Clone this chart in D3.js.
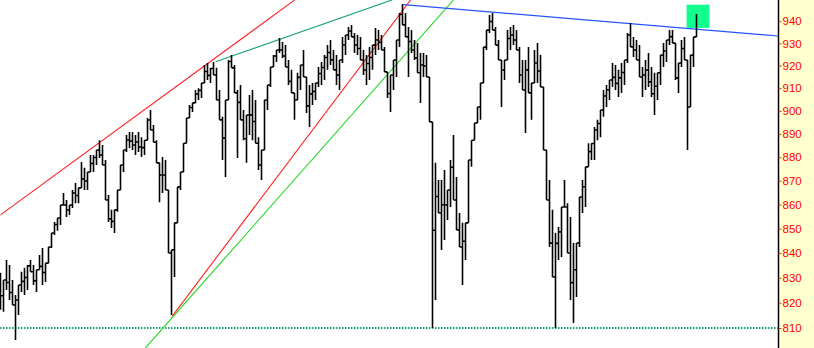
<!DOCTYPE html>
<html><head><meta charset="utf-8">
<script src="https://cdn.jsdelivr.net/npm/d3@7"></script>
<style>body{margin:0;background:#fff;overflow:hidden} svg{display:block}</style>
</head><body><svg id="c" width="814" height="348"></svg>
<script>
// Bar highs / lows (one bar per sample, left to right)
const highs = [
832.0,829.1,837.2,835.1,829.1,823.1,827.1,832.4,834.0,835.1,
837.2,835.1,833.2,839.2,842.1,835.9,842.5,848.2,852.8,854.4,
859.8,864.8,861.9,859.8,866.1,869.1,867.0,878.0,875.5,873.7,
880.9,880.9,883.1,887.3,885.2,878.8,864.0,857.8,857.8,866.1,
876.7,883.1,889.5,890.8,890.8,889.5,890.8,888.6,887.3,896.9,
900.4,893.9,887.3,876.7,880.1,878.8,864.8,841.3,852.4,867.4,
873.7,886.0,896.9,902.6,903.5,909.2,910.0,912.3,920.3,921.2,
919.0,921.6,919.0,909.2,897.4,904.8,922.5,924.7,920.3,909.2,
911.4,900.4,898.2,907.0,909.2,904.8,888.6,883.1,904.8,911.4,
919.4,924.7,927.0,932.4,930.6,929.2,922.5,918.1,904.8,916.8,
920.3,927.0,913.6,911.4,912.3,912.3,919.4,921.6,924.7,929.2,
931.5,927.0,924.7,922.5,932.9,933.8,937.4,938.3,934.7,933.8,
932.9,927.0,924.7,928.3,929.2,937.0,936.0,933.8,928.3,917.2,
915.8,922.5,931.5,943.8,947.9,943.8,937.4,936.0,931.5,930.1,
925.6,925.6,924.7,914.9,866.1,877.6,870.3,870.3,874.6,866.1,
878.8,889.5,871.6,856.5,852.4,852.4,878.8,887.3,894.7,901.7,
912.3,928.3,936.0,942.9,943.8,937.4,931.5,922.5,922.5,936.0,
937.4,938.3,936.0,928.3,922.5,922.5,928.3,912.3,927.0,930.1,
924.7,910.5,873.3,870.3,857.8,848.2,850.7,859.0,870.3,860.6,
854.8,844.1,844.1,863.2,870.3,875.9,886.0,886.0,893.0,896.1,
900.4,909.2,911.4,913.6,921.2,920.3,918.1,921.2,922.5,934.7,
939.2,932.9,931.5,929.2,919.4,922.5,925.6,919.4,916.8,916.8,
924.7,930.1,931.5,936.0,936.0,927.0,921.2,931.5,932.9,901.7,
924.7,932.9,943.3
];
const lows = [
817.2,816.4,825.1,821.1,819.1,805.3,815.1,824.3,823.1,825.1,
832.4,827.1,824.3,833.2,827.1,828.3,836.4,842.1,847.4,849.1,
851.5,859.8,854.8,855.7,858.6,860.6,860.6,868.2,866.1,866.1,
874.6,873.7,876.7,879.7,876.7,861.9,852.8,850.3,848.2,857.0,
868.2,873.7,882.2,883.9,883.1,880.9,882.2,880.1,880.9,887.3,
891.7,886.4,877.6,861.0,864.8,866.1,840.0,815.1,830.3,855.7,
866.1,875.9,887.3,896.9,899.5,903.5,904.8,905.7,912.8,913.6,
912.3,915.8,904.8,896.1,878.8,871.6,907.0,919.0,907.9,879.7,
896.1,887.3,877.6,889.5,887.3,886.0,874.6,870.3,890.4,900.4,
910.5,919.4,921.6,925.6,923.4,919.4,911.4,907.9,896.1,904.8,
909.2,914.9,899.1,893.0,902.6,904.8,910.5,911.4,913.6,918.1,
920.3,918.1,911.4,909.2,921.2,924.7,931.5,932.9,925.6,924.7,
922.5,915.8,911.4,913.6,918.1,924.7,927.0,927.0,917.2,905.7,
899.5,909.2,914.9,928.3,938.3,932.9,914.9,925.6,922.5,916.8,
903.5,914.9,914.9,895.2,810.0,821.1,856.5,841.3,845.3,853.6,
859.0,861.9,849.5,842.5,827.1,837.2,863.2,875.9,887.3,896.1,
896.1,914.9,927.0,934.7,936.0,929.2,922.5,901.7,913.6,928.3,
927.0,929.2,927.0,912.3,909.2,890.4,907.9,896.1,913.6,912.3,
910.5,883.1,861.9,842.5,830.3,810.0,837.2,838.4,859.0,840.0,
821.1,812.0,822.3,842.5,856.5,859.0,875.9,878.8,878.8,887.3,
888.6,897.4,901.7,904.8,910.5,909.2,906.1,907.9,911.4,921.2,
928.3,923.9,922.5,914.9,906.1,909.2,910.5,906.1,898.2,904.8,
911.4,919.4,921.6,929.2,930.1,913.6,907.9,919.4,922.5,883.1,
902.6,919.4,933.8
];
// Y axis tick labels
const tickValues = [810,820,830,840,850,860,870,880,890,900,910,920,930,940];
// Trend lines: [bar index, price] end points
const redUpperLine  = [[0, 855.7], [98.1, 949.8]];
const tealLine      = [[71.7, 921.7], [130.5, 949.8]];
const redSteepLine  = [[57.2, 814.6], [136.7, 949.8]];
const greenSteepLine= [[48.3, 802.2], [151.0, 949.8]];
const blueLine      = [[134.3, 947.6], [259.3, 933.3]];
const supportLevel = 810;
// highlight box: [index from, index to, price top, price bottom]
const highlightBox = [228.7, 236.3, 947.6, 937.0];

const W = 814, H = 348, axisX = 778;
const svg = d3.select("#c");
const x = d3.scaleLinear().domain([0, highs.length - 1]).range([0.5, 696.5]);
const y = d3.scaleLog().domain([810, 940]).range([328, 21.3]);

svg.append("rect").attr("width", W).attr("height", H).attr("fill", "#fff");
svg.append("rect").attr("x", axisX + 1).attr("width", W - axisX - 1).attr("height", H).attr("fill", "#ffffd0");

svg.append("defs").append("clipPath").attr("id", "plot")
  .append("rect").attr("width", axisX).attr("height", H);
const g = svg.append("g").attr("clip-path", "url(#plot)");

// highlight box
g.append("rect")
  .attr("x", x(highlightBox[0])).attr("width", x(highlightBox[1]) - x(highlightBox[0]))
  .attr("y", y(highlightBox[2])).attr("height", y(highlightBox[3]) - y(highlightBox[2]))
  .attr("fill", "#12ff8e");

// support dotted line
g.append("line").attr("x1", 0).attr("x2", axisX)
  .attr("y1", y(supportLevel)).attr("y2", y(supportLevel))
  .attr("stroke", "#10a874").attr("stroke-width", 2).attr("stroke-dasharray", "1.5,1.5");

const line = d3.line().x(d => x(d[0])).y(d => y(d[1]));
[[redUpperLine, "#ff2020", 1.1], [tealLine, "#1fa37a", 1.1], [redSteepLine, "#ff2020", 1.1],
 [greenSteepLine, "#22d622", 1.1], [blueLine, "#2454ff", 1.2]].forEach(([pts, c, w]) => {
  g.append("path").attr("d", line(pts)).attr("fill", "none").attr("stroke", c).attr("stroke-width", w);
});

// price bars as a stepped high-low trace
let d = "";
for (let i = 0; i < highs.length; i++) {
  const xi = x(i);
  if (i === 0) { d += `M${xi},${y(highs[i])}V${y(lows[i])}`; continue; }
  const mid = (highs[i] + lows[i]) / 2;
  const c = Math.max(lows[i - 1], Math.min(highs[i - 1], mid));
  d += `M${x(i - 1)},${y(c)}H${xi}`;
  const top = Math.max(highs[i], c), bot = Math.min(lows[i], c);
  d += `M${xi},${y(top)}V${y(bot)}`;
}
g.append("path").attr("d", d).attr("fill", "none").attr("stroke", "#000").attr("stroke-width", 1.6);

// axis
svg.append("line").attr("x1", axisX + 0.5).attr("x2", axisX + 0.5).attr("y1", 0).attr("y2", H)
  .attr("stroke", "#000").attr("stroke-width", 1.5);
const ax = svg.append("g").attr("transform", `translate(${axisX + 0.5},0)`)
  .call(d3.axisRight(y).tickValues(tickValues).tickFormat(d3.format("d")).tickSize(3).tickPadding(1));
ax.select(".domain").remove();
ax.selectAll(".tick line").attr("stroke", "#e03030");
ax.selectAll(".tick text").attr("fill", "#ff0000")
  .style("font-family", "'Liberation Sans', Arial, sans-serif").style("font-size", "11.5px");
</script>
</body></html>
